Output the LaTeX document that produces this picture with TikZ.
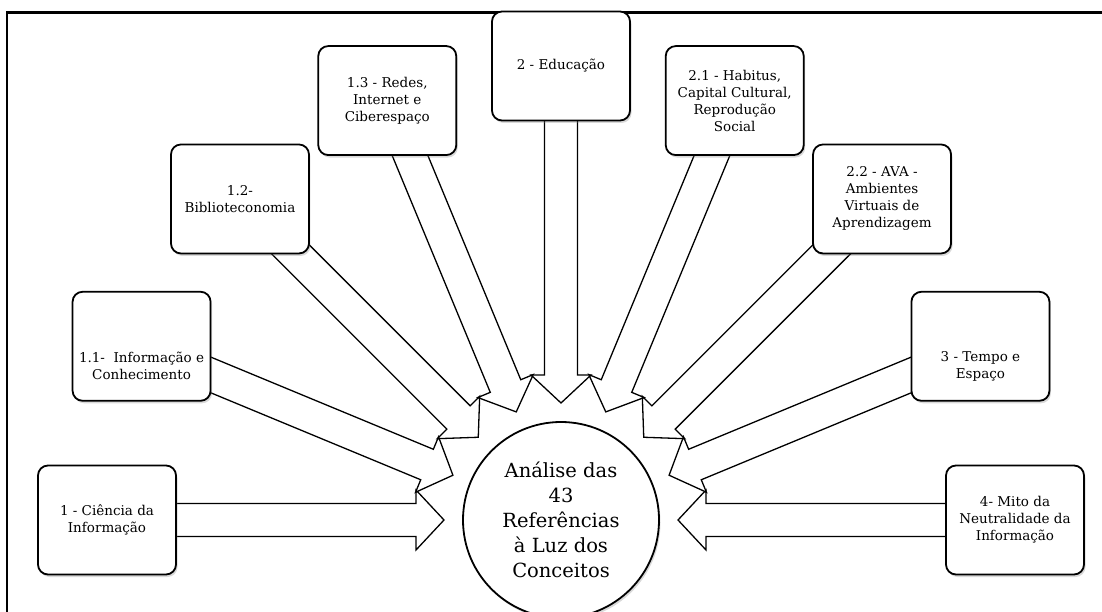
\documentclass[tikz,border=0pt]{standalone}
\usepackage{fontspec}
\setmainfont{DejaVu Serif}
\usetikzlibrary{calc,shadows}
\pgfdeclarelayer{bg}
\pgfsetlayers{bg,main}
\begin{document}
\begin{tikzpicture}[x=1pt,y=1pt,
  box/.style={draw=black, line width=1.8pt, rounded corners=10pt, fill=white,
    minimum width=138pt, minimum height=109pt, inner sep=2pt, align=center,
    font=\fontsize{13.5}{17}\selectfont,
    drop shadow={shadow xshift=1.5pt, shadow yshift=-2.5pt, opacity=0.3}},
  txt/.style={align=center, font=\fontsize{13.5}{17}\selectfont, inner sep=0pt},
  hub/.style={circle, draw=black, line width=1.8pt, fill=white, minimum size=196pt,
    inner sep=0pt, align=center, font=\fontsize{19.5}{25}\selectfont,
    drop shadow={shadow xshift=1.5pt, shadow yshift=-2.5pt, opacity=0.3}},
  blockarrow/.style={draw=black, line width=1.3pt, fill=white, line join=miter},
  frame/.style={draw=black, line width=2.5pt}
]
\useasboundingbox (0,0) rectangle (1102,611);
\coordinate (o) at (561,91);
\node[hub] (c) at (o) {Análise das\\43\\Referências\\à Luz dos\\Conceitos};

\node[box] (b1)  at ($(o)+(180:454)$)   {1 - Ciência da\\Informação};
\node[box] (b11) at ($(o)+(157.5:454)$) {};
\node[txt] (t11) at ($(b11.center)+(0,-20)$) {1.1-\ \ Informação e\\Conhecimento};
\node[box] (b12) at ($(o)+(135:454)$)   {1.2-\\Biblioteconomia};
\node[box] (b13) at ($(o)+(112.5:454)$) {1.3 - Redes,\\Internet e\\Ciberespaço};
\node[box] (b2)  at ($(o)+(90:454)$)    {2 - Educação};
\node[box] (b21) at ($(o)+(67.5:454)$)  {2.1 - Habitus,\\Capital Cultural,\\Reprodução\\Social};
\node[box] (b22) at ($(o)+(45:454)$)    {2.2 - AVA -\\Ambientes\\Virtuais de\\Aprendizagem};
\node[box] (b3)  at ($(o)+(22.5:454)$)  {};
\node[txt] (t3)  at ($(b3.center)+(0,-20)$) {3 - Tempo e\\Espaço};
\node[box] (b4)  at ($(o)+(0:454)$)     {4- Mito da\\Neutralidade da\\Informação};

\begin{pgfonlayer}{bg}
  \coordinate (fa) at (7,-10);
  \coordinate (fb) at (7,598.3);
  \coordinate (fc) at (1115,598.3);
  \draw[frame] (fa) -- (fb) -- (fc);
  \foreach \b in {b1,b11,b12,b13,b4,b3,b22,b21,b2} {
    \coordinate (t) at ($(c.center)!117pt!(\b.center)$);
    \coordinate (h) at ($(c.center)!145pt!(\b.center)$);
    \draw[blockarrow] (t)
      -- ($(h)!30pt!90:(c.center)$)
      -- ($(h)!16.5pt!90:(c.center)$)
      -- ($(\b.center)!16.5pt!90:(c.center)$)
      -- ($(\b.center)!16.5pt!-90:(c.center)$)
      -- ($(h)!16.5pt!-90:(c.center)$)
      -- ($(h)!30pt!-90:(c.center)$)
      -- cycle;
  }
\end{pgfonlayer}
\end{tikzpicture}
\end{document}
